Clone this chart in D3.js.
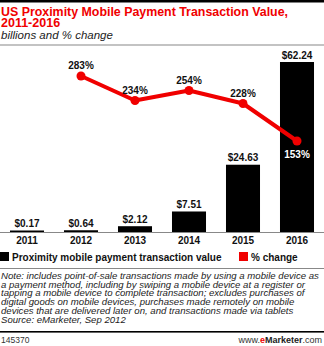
<!DOCTYPE html>
<html><head><meta charset="utf-8">
<script src="https://cdn.jsdelivr.net/npm/d3@7"></script>
<style>
body{margin:0;background:#fff;}
svg{display:block;font-family:"Liberation Sans",Arial,sans-serif;}
</style></head>
<body><svg id="c" width="324" height="346"></svg>
<script>
const years = ["2011","2012","2013","2014","2015","2016"];
const values = [0.17,0.64,2.12,7.51,24.63,62.24];
const valueLabels = ["$0.17","$0.64","$2.12","$7.51","$24.63","$62.24"];
const changeYears = ["2012","2013","2014","2015","2016"];
const changes = [283,234,254,228,153];
const titleLines = ["US Proximity Mobile Payment Transaction Value,","2011-2016"];
const subtitle = "billions and % change";
const legendLabels = ["Proximity mobile payment transaction value","% change"];
const noteLines = [
 "Note: includes point-of-sale transactions made by using a mobile device as",
 "a payment method, including by swiping a mobile device at a register or",
 "tapping a mobile device to complete transaction; excludes purchases of",
 "digital goods on mobile devices, purchases made remotely on mobile",
 "devices that are delivered later on, and transactions made via tablets",
 "Source: eMarketer, Sep 2012"
];
const chartId = "145370";

const svg = d3.select("#c");
const RED = "#f00000";

// top black bar
svg.append("rect").attr("x",0).attr("y",0).attr("width",324).attr("height",2.5).attr("fill","#000");

// title
svg.append("text").attr("x",1).attr("y",15.5).attr("fill",RED).attr("font-weight","bold").attr("font-size",12.5)
  .attr("textLength",287).attr("lengthAdjust","spacingAndGlyphs").text(titleLines[0]);
svg.append("text").attr("x",1).attr("y",26.5).attr("fill",RED).attr("font-weight","bold").attr("font-size",12.5)
  .text(titleLines[1]);
svg.append("text").attr("x",1).attr("y",39).attr("fill","#222").attr("font-style","italic").attr("font-size",11.5)
  .text(subtitle);
svg.append("line").attr("x1",0).attr("x2",324).attr("y1",45).attr("y2",45).attr("stroke","#888").attr("stroke-width",1.2);

// scales
const x = d3.scaleBand().domain(years).range([0,324]).paddingInner(0.37).paddingOuter(0.185);
const baseY = 232;
const y = d3.scaleLinear().domain([0,62.24]).range([baseY,62]);
const yc = d3.scaleLinear().domain([153,283]).range([141,76]);

// bars
svg.append("g").selectAll("rect").data(values).join("rect")
  .attr("x",(d,i)=>x(years[i])).attr("width",x.bandwidth())
  .attr("y",d=>Math.min(y(d),baseY-1.5)).attr("height",d=>Math.max(baseY-y(d),1.5))
  .attr("fill","#000");

// value labels
svg.append("g").selectAll("text").data(values).join("text")
  .attr("x",(d,i)=>x(years[i])+x.bandwidth()/2).attr("y",d=>Math.min(y(d),baseY-1.5)-3.5)
  .attr("text-anchor","middle").attr("font-weight","bold").attr("font-size",10).attr("fill","#111")
  .text((d,i)=>valueLabels[i]);

// axis
const axis = d3.axisBottom(x).tickSize(0).tickPadding(5);
const ag = svg.append("g").attr("transform",`translate(0,${baseY})`).call(axis);
ag.select(".domain").attr("stroke","#888").attr("d","M0,0.5H324");
ag.selectAll("text").attr("font-family","Liberation Sans, Arial, sans-serif").attr("font-weight","bold").attr("font-size",10).attr("fill","#111");

// line
const cx = d => x(d)+x.bandwidth()/2;
const line = d3.line().x((d,i)=>cx(changeYears[i])).y(d=>yc(d));
svg.append("path").datum(changes).attr("d",line).attr("fill","none").attr("stroke",RED).attr("stroke-width",4).attr("stroke-linejoin","round");
svg.append("g").selectAll("circle").data(changes).join("circle")
  .attr("cx",(d,i)=>cx(changeYears[i])).attr("cy",d=>yc(d)).attr("r",4.5).attr("fill",RED);
svg.append("g").selectAll("text").data(changes).join("text")
  .attr("x",(d,i)=>cx(changeYears[i]))
  .attr("y",(d,i)=> i===changes.length-1 ? yc(d)+17 : yc(d)-7)
  .attr("text-anchor","middle").attr("font-weight","bold").attr("font-size",10)
  .attr("fill",(d,i)=> i===changes.length-1 ? "#fff" : "#111")
  .text(d=>d+"%");

// legend
svg.append("rect").attr("x",0).attr("y",252).attr("width",9).attr("height",9).attr("fill","#000");
svg.append("text").attr("x",12).attr("y",260.5).attr("font-weight","bold").attr("font-size",10).attr("fill","#111").text(legendLabels[0]);
svg.append("rect").attr("x",239).attr("y",252).attr("width",9).attr("height",9).attr("fill",RED);
svg.append("text").attr("x",251).attr("y",260.5).attr("font-weight","bold").attr("font-size",10).attr("fill","#111").text(legendLabels[1]);
svg.append("line").attr("x1",0).attr("x2",324).attr("y1",268.5).attr("y2",268.5).attr("stroke","#888").attr("stroke-width",1.2);

// notes
svg.append("g").selectAll("text").data(noteLines).join("text")
  .attr("x",1).attr("y",(d,i)=>279+i*8.7)
  .attr("font-style","italic").attr("font-size",9.6).attr("fill","#222").text(d=>d);
svg.append("rect").attr("x",0).attr("y",331).attr("width",324).attr("height",1.6).attr("fill","#000");
svg.append("text").attr("x",1).attr("y",343).attr("font-size",8.5).attr("fill","#333").text(chartId);
const w = svg.append("text").attr("x",322).attr("y",343).attr("text-anchor","end").attr("font-size",9).attr("fill","#333");
w.append("tspan").text("www.");
w.append("tspan").attr("fill",RED).attr("font-weight","bold").text("e");
w.append("tspan").attr("font-weight","bold").attr("fill","#222").text("Marketer");
w.append("tspan").text(".com");
</script></body></html>
